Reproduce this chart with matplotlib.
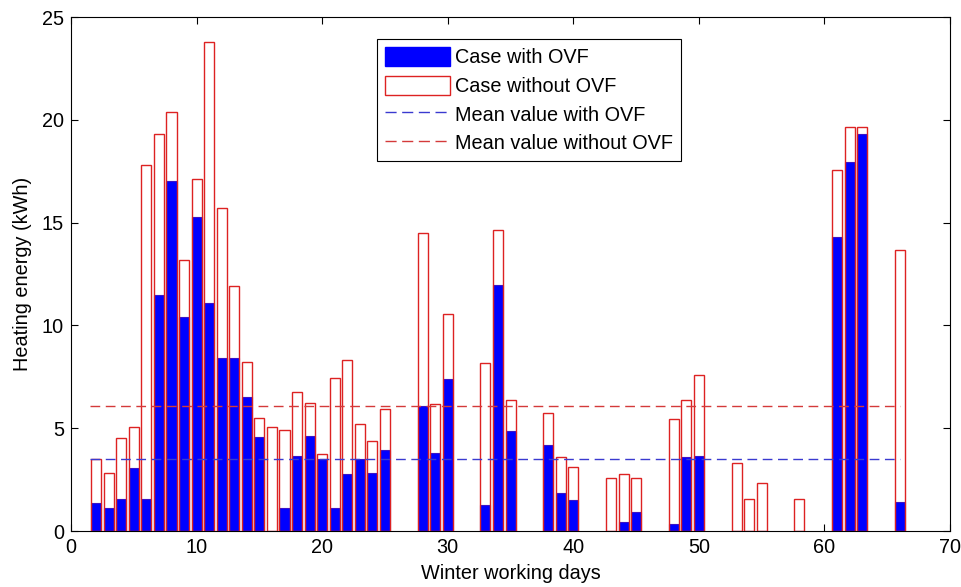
import matplotlib
matplotlib.use("Agg")
import matplotlib.pyplot as plt
from matplotlib.patches import Patch
from matplotlib.lines import Line2D

plt.rcParams['font.family'] = ['Liberation Sans', 'DejaVu Sans']

without_ovf = {
    2: 3.5, 3: 2.8, 4: 4.5, 5: 5.05, 6: 17.8, 7: 19.3, 8: 20.4, 9: 13.2,
    10: 17.1, 11: 23.8, 12: 15.7, 13: 11.9, 14: 8.2, 15: 5.5, 16: 5.05,
    17: 4.9, 18: 6.75, 19: 6.25, 20: 3.75, 21: 7.45, 22: 8.3, 23: 5.2,
    24: 4.4, 25: 5.95, 28: 14.5, 29: 6.2, 30: 10.55, 33: 8.15, 34: 14.65,
    35: 6.35, 38: 5.75, 39: 3.6, 40: 3.1, 43: 2.6, 44: 2.75, 45: 2.6,
    48: 5.45, 49: 6.35, 50: 7.6, 53: 3.3, 54: 1.55, 55: 2.35, 58: 1.55,
    61: 17.55, 62: 19.65, 63: 19.65, 66: 13.65,
}
with_ovf = {
    2: 1.35, 3: 1.1, 4: 1.55, 5: 3.05, 6: 1.55, 7: 11.5, 8: 17.0, 9: 10.4,
    10: 15.25, 11: 11.1, 12: 8.4, 13: 8.4, 14: 6.5, 15: 4.55, 16: 0.0,
    17: 1.1, 18: 3.65, 19: 4.6, 20: 3.5, 21: 1.1, 22: 2.75, 23: 3.5,
    24: 2.8, 25: 3.95, 28: 6.1, 29: 3.8, 30: 7.4, 33: 1.25, 34: 11.95,
    35: 4.85, 38: 4.2, 39: 1.85, 40: 1.5, 43: 0.0, 44: 0.45, 45: 0.9,
    48: 0.35, 49: 3.6, 50: 3.65, 53: 0.0, 54: 0.0, 55: 0.0, 58: 0.0,
    61: 14.3, 62: 17.95, 63: 19.3, 66: 1.4,
}
mean_with = 3.5
mean_without = 6.1
mean_span = [1.5, 66.0]

x_with = list(with_ovf.keys())
y_with = list(with_ovf.values())
x_without = list(without_ovf.keys())
y_without = list(without_ovf.values())

FS = 14.3

fig = plt.figure(figsize=(9.61, 5.87), dpi=100)
ax = fig.add_axes([0.0739, 0.0954, 0.9147, 0.8756])

red = '#dd2222'
ax.bar(x_with, y_with, width=0.8, color='#0000ff', edgecolor='#3a14c8', linewidth=0.8, zorder=2)
ax.bar(x_without, y_without, width=0.8, facecolor='none', edgecolor=red, linewidth=1.0, zorder=3)
ax.plot(mean_span, [mean_with, mean_with], color='#3a3ad0', linestyle=(0, (7, 4)), linewidth=1.0, zorder=4)
ax.plot(mean_span, [mean_without, mean_without], color='#d43a3a', linestyle=(0, (7, 4)), linewidth=1.0, zorder=4)

ax.set_xlim(0, 70)
ax.set_ylim(0, 25)
ax.set_xticks(range(0, 71, 10))
ax.set_yticks(range(0, 26, 5))
ax.tick_params(direction='in', top=True, right=True, labelsize=FS, length=5, width=0.8, pad=5)
for s in ax.spines.values():
    s.set_linewidth(0.8)
ax.set_xlabel('Winter working days', fontsize=FS, labelpad=5)
ax.set_ylabel('Heating energy (kWh)', fontsize=FS, labelpad=7)

handles = [
    Patch(facecolor='#0000ff', edgecolor='#0000ff'),
    Patch(facecolor='white', edgecolor=red, linewidth=1.0),
    Line2D([0], [0], color='#3a3ad0', linestyle=(0, (8, 4)), linewidth=1.0),
    Line2D([0], [0], color='#d43a3a', linestyle=(0, (8, 4)), linewidth=1.0),
]
labels = ['Case with OVF', 'Case without OVF', 'Mean value with OVF', 'Mean value without OVF']
leg = ax.legend(handles, labels, loc='upper left', bbox_to_anchor=(0.348, 0.957),
                borderaxespad=0, fancybox=False, edgecolor='black', fontsize=FS,
                handlelength=3.3, handleheight=1.1, handletextpad=0.25,
                labelspacing=0.42, borderpad=0.4, framealpha=1)
leg.get_frame().set_linewidth(0.8)

fig.savefig('out.png', dpi=100)
